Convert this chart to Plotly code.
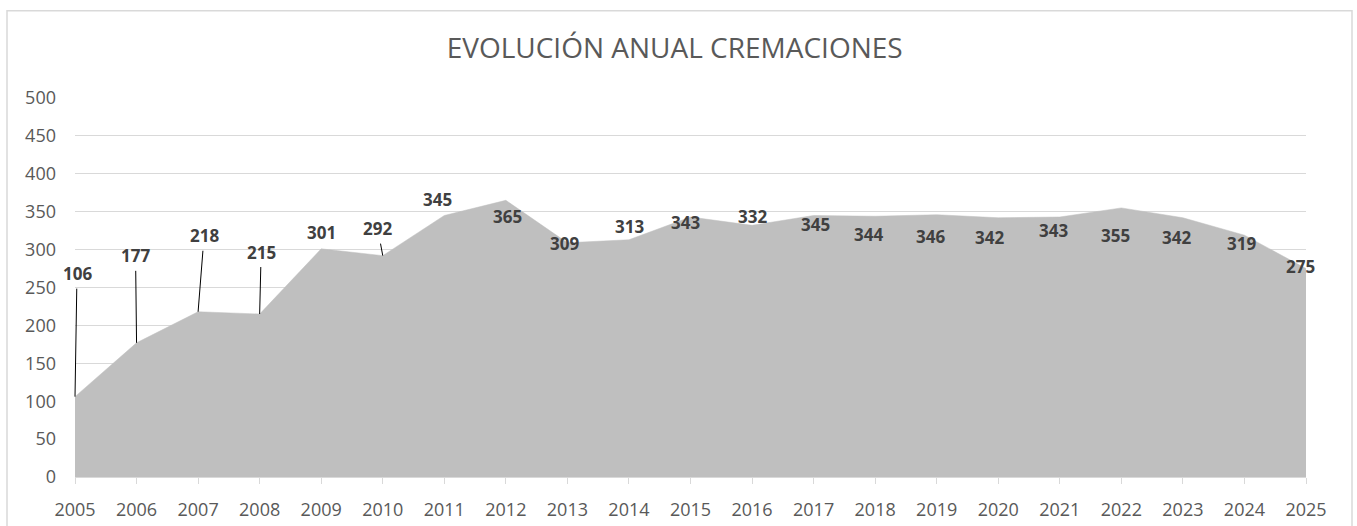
import plotly.graph_objects as go

# ---- data ----
years = list(range(2005, 2026))
cremaciones = [106, 177, 218, 215, 301, 292, 345, 365, 309, 313, 343,
               332, 345, 344, 346, 342, 343, 355, 342, 319, 275]
y_ticks = list(range(0, 501, 50))
title_text = "EVOLUCIÓN ANUAL CREMACIONES"

# label placement (pixel offsets of label centre from the point), and leader-line flags
label_dx = [2, -1, 6, 1.5, 0, -5, -7, 1.4, -3, 1, -5, 0, 1.4, -7, -6.7, -9, -6.5, -6.3, -6.2, -2.7, -6]
label_dy = [-123, -87, -76, -62, -16.5, -27, -15.5, 16.4, 0.5, -13, 5.7, -8.6, 8.8, 18, 22, 19.5, 13.7, 27.8, 19.5, 8, -2.5]
leader = [True, True, True, True, False, True] + [False] * 15

FONT = "Open Sans"
W, H = 1357, 526
L, R, T, B = 75, 51, 98, 49

fig = go.Figure()
fig.add_trace(go.Scatter(
    x=years, y=cremaciones, mode="lines", fill="tozeroy",
    fillcolor="#bfbfbf", line=dict(color="#bfbfbf", width=0.5),
    hoverinfo="skip", showlegend=False,
))

annotations = []
for x, v, dx, dy, ld in zip(years, cremaciones, label_dx, label_dy, leader):
    base = dict(x=x, y=v, xref="x", yref="y", text=str(v),
                font=dict(family=FONT, size=17, color="#404040", weight="bold"))
    if ld:
        annotations.append(dict(**base, showarrow=True, ax=dx, ay=dy,
                                axref="pixel", ayref="pixel",
                                arrowhead=0, arrowwidth=1, arrowcolor="#000000",
                                standoff=0, startstandoff=2))
    else:
        annotations.append(dict(**base, showarrow=False, xshift=dx, yshift=-dy))

pw = W - L - R
ph = H - T - B
fig.update_layout(
    width=W, height=H,
    margin=dict(l=L, r=R, t=T, b=B, pad=0, autoexpand=False),
    paper_bgcolor="white", plot_bgcolor="white",
    title=dict(text=title_text, x=674.7 / W, xref="container", xanchor="center",
               y=1 - 48 / H, yref="container", yanchor="middle",
               font=dict(family=FONT, size=28, color="#595959")),
    xaxis=dict(range=[years[0], years[-1]], tickmode="array", tickvals=years,
               ticktext=[str(y) for y in years], showgrid=False,
               showline=True, linecolor="#d9d9d9", linewidth=1,
               ticks="outside", ticklen=6, tickcolor="#d9d9d9",
               ticklabelstandoff=10,
               tickfont=dict(family=FONT, size=18, color="#595959"),
               zeroline=False, fixedrange=True),
    yaxis=dict(range=[0, 500], tickmode="array", tickvals=y_ticks,
               showgrid=True, gridcolor="#d9d9d9", gridwidth=1,
               showline=False, ticks="", zeroline=False,
               ticklabelstandoff=18,
               tickfont=dict(family=FONT, size=18, color="#595959"),
               fixedrange=True),
    annotations=annotations,
    shapes=[dict(type="rect", xref="paper", yref="paper",
                 x0=(7 - L) / pw, x1=(1352 - L) / pw,
                 y0=(H - B - 540) / ph, y1=(H - B - 10.7) / ph,
                 line=dict(color="#d9d9d9", width=1.5), fillcolor="rgba(0,0,0,0)",
                 layer="below")],
)

fig.write_html("out.html", config={"displayModeBar": False},
               post_script="document.body.style.margin='0';document.body.style.overflow='hidden';")
